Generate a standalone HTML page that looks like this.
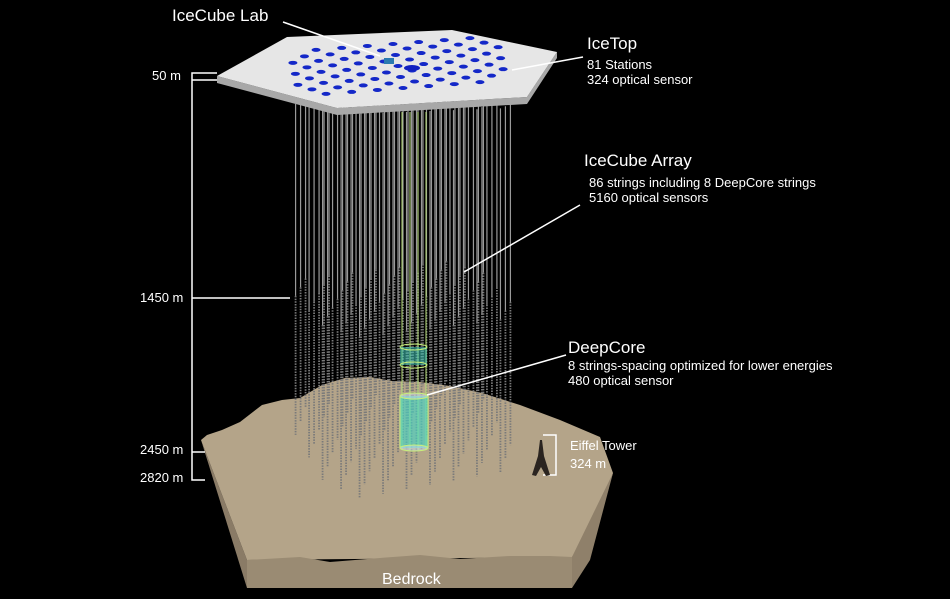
<!DOCTYPE html>
<html><head><meta charset="utf-8"><style>
html,body{margin:0;padding:0;background:#000;width:950px;height:599px;overflow:hidden}
text{font-family:"Liberation Sans",sans-serif;fill:#fff}
</style></head><body>
<svg id="s" width="950" height="599" viewBox="0 0 950 599" xmlns="http://www.w3.org/2000/svg">
<rect width="950" height="599" fill="#000"/>
<polygon points="201,440 247,588 247,560" fill="#8a7b66"/>
<polygon points="201,440 207,435 222,430 240,422 262,405 282,400 300,398 322,385 345,378 370,377 392,381 420,382 450,386 482,393 520,405 560,420 600,437 613,473 590,545 572,557 247,560" fill="#b4a489"/>
<polygon points="247,560 300,557 330,562 380,558 420,555 460,559 510,556 550,556 572,557 572,588 247,588" fill="#9a8b73"/>
<polygon points="613,473 572,557 572,588 590,560" fill="#8f806a"/>
<g id="strings"></g>
<g stroke="#b8e07a" stroke-width="1" fill="none">
<line x1="402" y1="112" x2="402" y2="450"/><line x1="426" y1="112" x2="426" y2="450"/>
<line x1="410" y1="112" x2="410" y2="450"/><line x1="418" y1="112" x2="418" y2="450"/>
</g>
<rect x="400" y="347" width="27" height="18" fill="#3fc8b8" opacity="0.55"/>
<ellipse cx="413.5" cy="347" rx="13.5" ry="3" fill="none" stroke="#c8f07a"/>
<ellipse cx="413.5" cy="365" rx="13.5" ry="3" fill="none" stroke="#c8f07a"/>
<rect x="400" y="396" width="28" height="52" fill="#3fd8c8" opacity="0.6"/>
<ellipse cx="414" cy="396" rx="14" ry="3" fill="#cde" fill-opacity="0.5" stroke="#c8f07a"/>
<ellipse cx="414" cy="448" rx="14" ry="3" fill="#cde" fill-opacity="0.5" stroke="#c8f07a"/>
<line x1="400" y1="396" x2="400" y2="448" stroke="#c8f07a"/><line x1="428" y1="396" x2="428" y2="448" stroke="#c8f07a"/>
<polygon points="217,76 337,108 527,97 557,52 557,58 527,104 337,115 217,83" fill="#a8a8a8"/>
<polygon points="217,76 287,37 452,30 557,52 527,97 337,108" fill="#e6e6e6"/>
<g id="dots"></g>
<rect x="384" y="58" width="10" height="6" fill="#2a7ab0"/>
<ellipse cx="412" cy="68" rx="8" ry="3" fill="#1020c0"/>
<g stroke="#fff" stroke-width="1.5" fill="none">
<line x1="283" y1="22" x2="380" y2="56"/>
<line x1="583" y1="57" x2="512" y2="70"/>
<line x1="580" y1="205" x2="464" y2="272"/>
<line x1="566" y1="355" x2="427" y2="395"/>
<polyline points="217,73 192,73 192,480 205,480"/>
<line x1="192" y1="80" x2="217" y2="80"/>
<line x1="192" y1="298" x2="290" y2="298"/>
<line x1="192" y1="452" x2="205" y2="452"/>
<polyline points="543,435 556,435 556,475 543,475"/>
</g>
<g fill="#2a2420">
<polygon points="540,440 542,440 544,456 550,475 546,476 541,467 536,476 532,475 538,456"/>
</g>
<text x="172" y="21" font-size="17">IceCube Lab</text>
<text x="587" y="49" font-size="17">IceTop</text>
<text x="587" y="69" font-size="13">81 Stations</text>
<text x="587" y="84" font-size="13">324 optical sensor</text>
<text x="584" y="166" font-size="17">IceCube Array</text>
<text x="589" y="187" font-size="13">86 strings including 8 DeepCore strings</text>
<text x="589" y="202" font-size="13">5160 optical sensors</text>
<text x="568" y="353" font-size="17">DeepCore</text>
<text x="568" y="370" font-size="13">8 strings-spacing optimized for lower energies</text>
<text x="568" y="385" font-size="13">480 optical sensor</text>
<text x="152" y="80" font-size="13">50 m</text>
<text x="140" y="302" font-size="13">1450 m</text>
<text x="140" y="454" font-size="13">2450 m</text>
<text x="140" y="482" font-size="13">2820 m</text>
<text x="570" y="450" font-size="13">Eiffel Tower</text>
<text x="570" y="468" font-size="13">324 m</text>
<text x="382" y="584" font-size="16">Bedrock</text>
</svg>
<script>
var NS="http://www.w3.org/2000/svg";
var sg=document.getElementById("strings"),dg=document.getElementById("dots");
function el(p,tag,a){var e=document.createElementNS(NS,tag);for(var k in a)e.setAttribute(k,a[k]);p.appendChild(e);}
var pts=[];
for(var r=-4;r<=4;r++){for(var q=-5;q<=5;q++){var u=q+r*0.5;if(Math.abs(u)>4.6-Math.abs(r)*0.15)continue;pts.push([u/4.6,r/4]);}}
pts.sort(function(a,b){return a[1]-b[1];});
pts.forEach(function(p){
 var u=p[0],v=p[1];
 var x=403+108*u+27*v;
 var ty=104+7*v-4*u;
 var by=440+45*v-20*u;
 var my=ty+(by-ty)*0.58;
 el(sg,"line",{x1:x,y1:ty,x2:x,y2:my,stroke:"#9a9a9a","stroke-width":1.2});
 el(sg,"line",{x1:x,y1:my,x2:x,y2:by,stroke:"#7a7a7a","stroke-width":1.8,"stroke-dasharray":"1.5 1.2"});
 var dx=398+118*u+5*v, dy=66-9*u+22*v;
 el(dg,"ellipse",{cx:dx,cy:dy,rx:4.5,ry:2,fill:"#1428c8"});
});
</script>
</body></html>
